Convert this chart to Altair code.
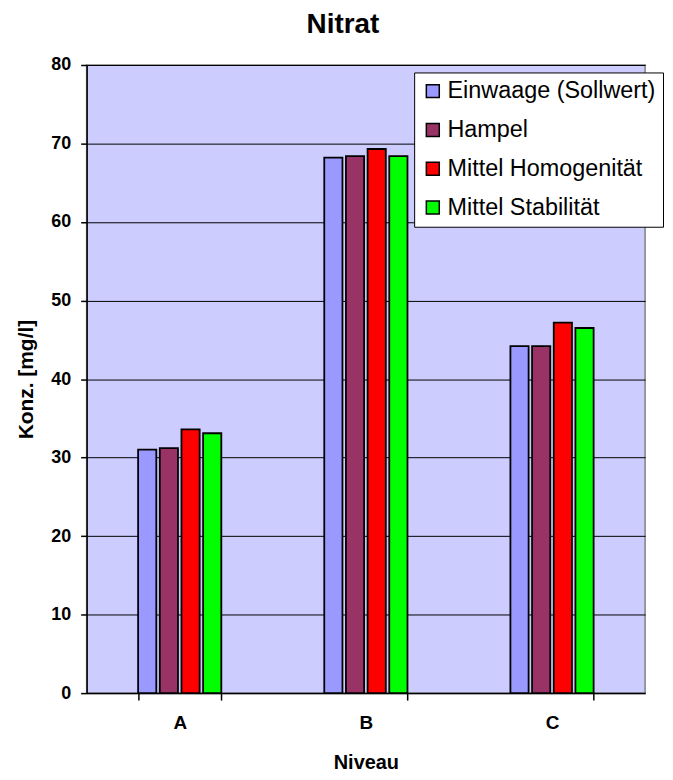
import altair as alt
import pandas as pd

levels = ["A", "B", "C"]
series = ["Einwaage (Sollwert)", "Hampel", "Mittel Homogenität", "Mittel Stabilität"]
einwaage = [31.0, 68.2, 44.2]
hampel = [31.2, 68.4, 44.2]
homogen = [33.6, 69.3, 47.2]
stabil = [33.1, 68.4, 46.5]
colors = ["#9999FF", "#993366", "#FF0000", "#00FF00"]
y_ticks = [0, 10, 20, 30, 40, 50, 60, 70, 80]

rows = []
for s, vals in zip(series, [einwaage, hampel, homogen, stabil]):
    for lv, v in zip(levels, vals):
        rows.append({"Niveau": lv, "Serie": s, "Wert": v})
df = pd.DataFrame(rows)

FONT = "Liberation Sans"

chart = alt.Chart(df).mark_bar(stroke="black", strokeWidth=1.8).encode(
    x=alt.X(
        "Niveau:N", sort=levels,
        scale=alt.Scale(paddingInner=0.553, paddingOuter=0.2765),
        axis=alt.Axis(
            title="Niveau", labelAngle=0, tickBand="extent", grid=False,
            labelFontSize=19, labelFontWeight="bold", labelPadding=14, labelColor="black",
            tickSize=7, tickColor="black", tickWidth=1.5,
            domainColor="black", domainWidth=1.5,
            titleFontSize=20, titleFontWeight="bold", titlePadding=20, titleColor="black",
        ),
    ),
    xOffset=alt.XOffset("Serie:N", sort=series, scale=alt.Scale(paddingInner=0.16, paddingOuter=0)),
    y=alt.Y(
        "Wert:Q",
        scale=alt.Scale(domain=[0, 80]),
        axis=alt.Axis(
            values=y_ticks, title="Konz. [mg/l]",
            labelFontSize=18, labelFontWeight="bold", labelPadding=10, labelColor="black",
            tickSize=6, tickColor="black", tickWidth=1.5,
            domainColor="black", domainWidth=1.5,
            grid=True, gridColor="black", gridOpacity=1, gridWidth=1,
            titleFontSize=21, titleFontWeight="bold", titlePadding=14, titleColor="black",
        ),
    ),
    color=alt.Color(
        "Serie:N", sort=series, title=None,
        scale=alt.Scale(domain=series, range=colors),
        legend=alt.Legend(
            orient="none", legendX=329, legendY=7.5,
            fillColor="white", strokeColor="black", padding=7,
            labelFontSize=23.5, labelFont=FONT, labelColor="black", labelLimit=400,
            symbolType="square", symbolSize=169, symbolStrokeColor="black", symbolStrokeWidth=1.5,
            symbolOpacity=1, rowPadding=14, labelOffset=3,
        ),
    ),
).properties(
    width=561, height=631,
    title=alt.TitleParams("Nitrat", fontSize=28, fontWeight="bold", color="black", font=FONT,
                          anchor="middle", dx=-23, offset=17),
    padding={"left": 79, "top": 55.5, "right": 20, "bottom": 80},
    autosize=alt.AutoSizeParams(type="none"),
).configure(
    font=FONT,
).configure_view(
    fill="#CCCCFF", stroke="#808080", strokeWidth=1.5,
)

chart.save("out.html", embed_options={"renderer": "svg", "actions": False})
